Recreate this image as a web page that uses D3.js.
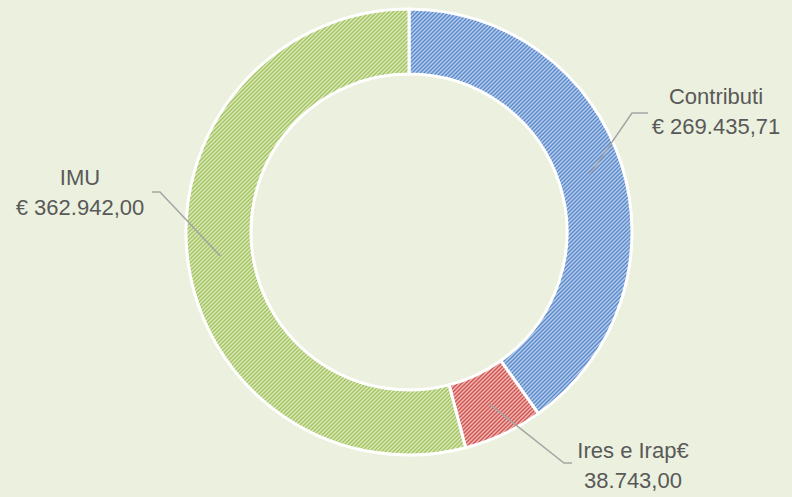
<!DOCTYPE html>
<html>
<head>
<meta charset="utf-8">
<script src="https://cdn.jsdelivr.net/npm/d3@7"></script>
<style>
  body { margin: 0; background: #ebf1de; }
  svg { display: block; }
</style>
</head>
<body>
<div id="chart"></div>
<script>
// data
var categories = ["Contributi", "Ires e Irap", "IMU"];
var values = [269435.71, 38743.00, 362942.00];
var labelLines = [
  ["Contributi", "€ 269.435,71"],
  ["Ires e Irap€", "38.743,00"],
  ["IMU", "€ 362.942,00"]
];

var svgWidth = 792;
var svgHeight = 497;
var cx = 409, cy = 232;
var outerR = 223, innerR = 158;

var fills = [
  { light: "#b3cbec", dark: "#5a88c8" },
  { light: "#f3b3b0", dark: "#cc5450" },
  { light: "#d8e8b6", dark: "#a3c260" }
];

// elbow of the leader line, its end, and the first baseline of the label
var labelPos = [
  { elbow: [632, 113], end: [648, 113], tx: 716, ty: 104 },
  { elbow: [564, 463], end: [572, 463], tx: 633, ty: 458 },
  { elbow: [160, 192], end: [152, 192], tx: 80, ty: 185 }
];

var svg = d3.select("#chart")
  .append("svg")
  .attr("width", svgWidth)
  .attr("height", svgHeight);

svg.append("rect")
  .attr("width", svgWidth)
  .attr("height", svgHeight)
  .attr("fill", "#ebf1de");

var defs = svg.append("defs");
fills.forEach(function(f, i) {
  var p = defs.append("pattern")
    .attr("id", "hatch" + i)
    .attr("patternUnits", "userSpaceOnUse")
    .attr("width", 4)
    .attr("height", 4);
  p.append("rect").attr("width", 4).attr("height", 4).attr("fill", f.light);
  p.append("path")
    .attr("d", "M-1,1 l2,-2 M0,4 l4,-4 M3,5 l2,-2")
    .attr("stroke", f.dark)
    .attr("stroke-width", 1.3);
});

var pie = d3.pie().sort(null).value(function(d) { return d; });
var arcs = pie(values);

var arc = d3.arc().innerRadius(innerR).outerRadius(outerR);
var midArc = d3.arc().innerRadius(190).outerRadius(190);

var g = svg.append("g")
  .attr("transform", "translate(" + cx + "," + cy + ")");

g.selectAll("path.slice")
  .data(arcs)
  .enter()
  .append("path")
  .attr("class", "slice")
  .attr("d", arc)
  .attr("fill", function(d, i) { return "url(#hatch" + i + ")"; })
  .attr("stroke", "#ffffff")
  .attr("stroke-width", 3)
  .attr("stroke-linejoin", "round");

// leader lines
svg.selectAll("polyline.leader")
  .data(arcs)
  .enter()
  .append("polyline")
  .attr("class", "leader")
  .attr("points", function(d, i) {
    var c = midArc.centroid(d);
    var lp = labelPos[i];
    return [[c[0] + cx, c[1] + cy], lp.elbow, lp.end].map(function(p) { return p.join(","); }).join(" ");
  })
  .attr("fill", "none")
  .attr("stroke", "#a5a5a5")
  .attr("stroke-width", 1.5);

// labels
labelLines.forEach(function(lines, i) {
  var lp = labelPos[i];
  var t = svg.append("text")
    .attr("text-anchor", "middle")
    .style("font-family", "'Liberation Sans', Arial, sans-serif")
    .style("font-size", "22px")
    .style("fill", "#595959");
  lines.forEach(function(s, j) {
    t.append("tspan")
      .attr("x", lp.tx)
      .attr("y", lp.ty + j * 29.5)
      .text(s);
  });
});
</script>
</body>
</html>
